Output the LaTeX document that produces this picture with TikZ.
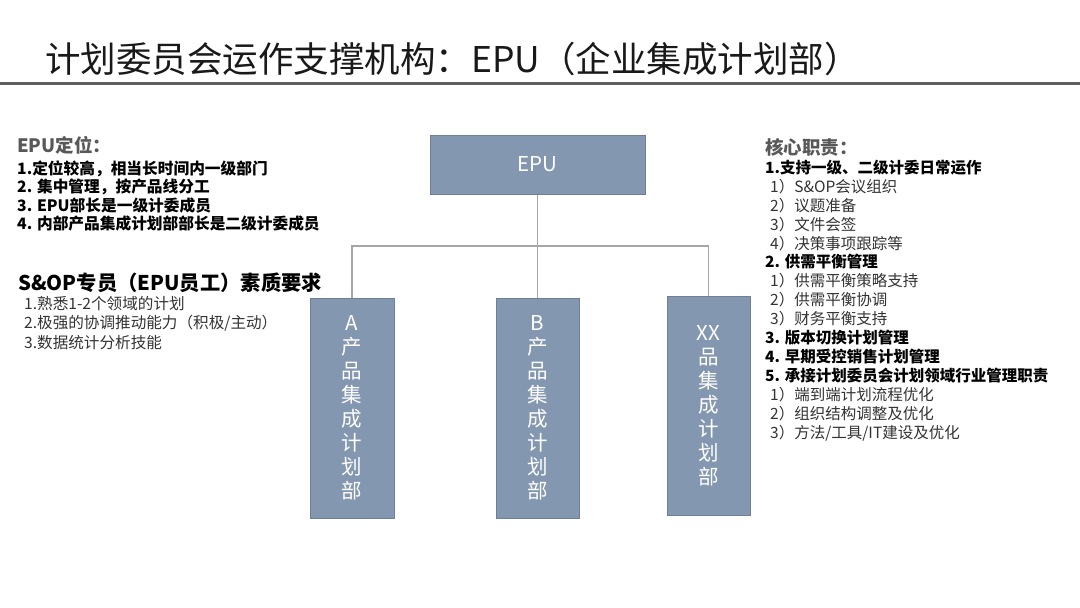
\documentclass[tikz,border=0pt]{standalone}
\usepackage{fontspec}
\setmainfont{Noto Sans CJK SC}
\usepackage{tikz}
\usetikzlibrary{positioning}
\definecolor{deptFill}{HTML}{8497B0}
\definecolor{deptLine}{HTML}{6F7F94}
\definecolor{linkGray}{HTML}{A6A6A6}
\definecolor{headGray}{HTML}{595959}
\definecolor{bodyGray}{HTML}{333333}
\definecolor{ruleGray}{HTML}{5F5F5F}
\tikzset{
  deptbox/.style={draw=deptLine, fill=deptFill, line width=1pt, text=white, align=center, inner sep=0pt, font=\fontsize{20.5}{24}\selectfont, minimum width=83pt, minimum height=220pt},
  orgline/.style={draw=linkGray, line width=1.3pt},
  headtxt/.style={anchor=west, inner sep=0pt, text=headGray, font=\fontsize{18.5}{22}\selectfont\bfseries},
  listtxt/.style={anchor=west, inner sep=0pt, align=left, text=black, font=\fontsize{15.5}{18.93}\selectfont},
}

\begin{document}
\begin{tikzpicture}[x=1pt, y=-1pt, node distance=100pt]
\useasboundingbox[fill=white] (0,0) rectangle (1080,608);

% Titel
\node[anchor=west, inner sep=0pt, font=\fontsize{35.5}{40}\selectfont, text=black!90] (titel) at (45,59) {计划委员会运作支撑机构：EPU（企业集成计划部）};
\draw[ruleGray, line width=3pt] (0,83) -- (1080,83);

% Organigramm
\node[deptbox, minimum width=215pt, minimum height=59pt] (epu) at (537.5,164.5) {EPU};
\node[deptbox, below=103pt of epu] (pb) {B\\产\\品\\集\\成\\计\\划\\部};
\node[deptbox, minimum width=84pt, left=101pt of pb] (pa) {A\\产\\品\\集\\成\\计\\划\\部};
\node[deptbox, minimum height=219pt, right=87pt of pb, yshift=2pt] (pxx) {XX\\品\\集\\成\\计\\划\\部};

\coordinate (hub) at (537.5,246);
\draw[orgline] (epu.south) -- (hub);
\draw[orgline] (pa.north) |- (hub) -| (pxx.north);
\draw[orgline] (hub) -- (pb.north);

% Linke Spalte
\node[headtxt] (dingwei) at (17,145) {EPU定位：};
\node[listtxt, font=\fontsize{15.7}{18.5}\selectfont\bfseries] (dwlist) at (17,195.75) {1.定位较高，相当长时间内一级部门\\2. 集中管理，按产品线分工\\3. EPU部长是一级计委成员\\4. 内部产品集成计划部部长是二级计委成员};

\node[anchor=west, inner sep=0pt, font=\fontsize{20.3}{23}\selectfont\bfseries] (suzhi) at (18,283) {S\&OP专员（EPU员工）素质要求};
\node[listtxt, text=bodyGray, font=\fontsize{15.6}{19.5}\selectfont] (szlist) at (24,322.7) {1.熟悉1-2个领域的计划\\2.极强的协调推动能力（积极/主动）\\3.数据统计分析技能};

% Rechte Spalte
\node[headtxt] (zhize) at (765,147) {核心职责：};
\node[listtxt] (zzlist) at (765,300.5) {\textbf{1.支持一级、二级计委日常运作}\\
\hspace*{5pt}{\color{bodyGray}1）S\&OP会议组织}\\
\hspace*{5pt}{\color{bodyGray}2）议题准备}\\
\hspace*{5pt}{\color{bodyGray}3）文件会签}\\
\hspace*{5pt}{\color{bodyGray}4）决策事项跟踪等}\\
\textbf{2. 供需平衡管理}\\
\hspace*{5pt}{\color{bodyGray}1）供需平衡策略支持}\\
\hspace*{5pt}{\color{bodyGray}2）供需平衡协调}\\
\hspace*{5pt}{\color{bodyGray}3）财务平衡支持}\\
\textbf{3. 版本切换计划管理}\\
\textbf{4. 早期受控销售计划管理}\\
\textbf{5. 承接计划委员会计划领域行业管理职责}\\
\hspace*{5pt}{\color{bodyGray}1）端到端计划流程优化}\\
\hspace*{5pt}{\color{bodyGray}2）组织结构调整及优化}\\
\hspace*{5pt}{\color{bodyGray}3）方法/工具/IT建设及优化}};
\end{tikzpicture}
\end{document}
